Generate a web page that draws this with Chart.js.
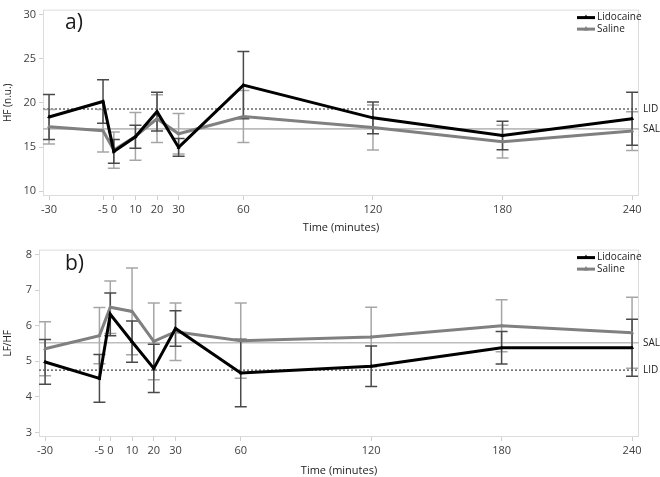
<!DOCTYPE html>
<html>
<head>
<meta charset="utf-8">
<script src="https://cdn.jsdelivr.net/npm/chart.js@4.4.1/dist/chart.umd.min.js"></script>
<style>
    html, body { margin: 0; padding: 0; background: #fff; }
    #wrap { width: 660px; height: 477px; }
    canvas { display: block; }
</style>
</head>
<body>
<div id="wrap">
    <canvas id="hfChart" width="660" height="240"></canvas>
    <canvas id="lfhfChart" width="660" height="237"></canvas>
</div>
<script>
// Time points (minutes)
const timePoints = [-30, -5, 0, 10, 20, 30, 60, 120, 180, 240];

// a) HF (n.u.), mean and error
const hfLidocaine    = [18.4, 20.15, 14.5, 16.15, 19.0, 14.95, 22.0, 18.3, 16.3, 18.2];
const hfLidocaineErr = [2.55, 2.45, 1.35, 1.3, 2.2, 1.0, 3.8, 1.8, 1.6, 3.0];
const hfSaline       = [17.3, 16.85, 14.65, 16.2, 18.2, 16.5, 18.45, 17.2, 15.6, 16.8];
const hfSalineErr    = [1.95, 2.4, 2.05, 2.7, 2.7, 2.3, 2.95, 2.55, 1.85, 2.2];
const hfLidMean = 19.3;
const hfSalMean = 17.05;
const hfTicks = [10, 15, 20, 25, 30];

// b) LF/HF, mean and error
const lfhfLidocaine    = [4.98, 4.52, 6.32, 5.55, 4.8, 5.92, 4.67, 4.86, 5.38, 5.38];
const lfhfLidocaineErr = [0.63, 0.67, 0.6, 0.58, 0.68, 0.5, 0.95, 0.57, 0.46, 0.8];
const lfhfSaline       = [5.35, 5.72, 6.52, 6.4, 5.56, 5.83, 5.58, 5.68, 6.0, 5.8];
const lfhfSalineErr    = [0.76, 0.79, 0.74, 1.22, 1.08, 0.81, 1.06, 0.84, 0.73, 1.0];
const lfhfLidMean = 4.75;
const lfhfSalMean = 5.52;
const lfhfTicks = [3, 4, 5, 6, 7, 8];

const FONT = "'Open Sans', 'DejaVu Sans', sans-serif";
const TEXT_COLOR = '#404040';

// frame, reference lines, error bars, legend and panel label
const panelDecor = {
    id: 'panelDecor',
    beforeDatasetsDraw(chart, args, opts) {
        const ctx = chart.ctx;
        const area = chart.chartArea;
        const xs = chart.scales.x;
        const ys = chart.scales.y;

        ctx.save();
        // frame
        ctx.strokeStyle = '#dcdcdc';
        ctx.lineWidth = 1;
        ctx.strokeRect(area.left + 0.5, area.top + 0.5, area.width - 1, area.height - 1);

        // reference lines
        const lidY = ys.getPixelForValue(opts.lidMean);
        const salY = ys.getPixelForValue(opts.salMean);
        ctx.lineWidth = 1.6;
        ctx.strokeStyle = '#bdbdbd';
        ctx.setLineDash([]);
        ctx.beginPath();
        ctx.moveTo(area.left, salY);
        ctx.lineTo(area.right, salY);
        ctx.stroke();
        ctx.strokeStyle = '#707070';
        ctx.setLineDash([2, 2]);
        ctx.beginPath();
        ctx.moveTo(area.left, lidY);
        ctx.lineTo(area.right, lidY);
        ctx.stroke();
        ctx.setLineDash([]);

        ctx.fillStyle = '#222';
        ctx.font = '10px ' + FONT;
        ctx.textAlign = 'left';
        ctx.textBaseline = 'middle';
        ctx.fillText('LID', area.right + 4, lidY);
        ctx.fillText('SAL', area.right + 4, salY);

        // error bars (saline first, lidocaine on top)
        for (let d = chart.data.datasets.length - 1; d >= 0; d--) {
            const ds = chart.data.datasets[d];
            ctx.strokeStyle = ds.errorColor;
            ctx.lineWidth = 1.5;
            ds.data.forEach((pt, i) => {
                const px = xs.getPixelForValue(pt.x);
                const top = ys.getPixelForValue(pt.y + ds.errors[i]);
                const bot = ys.getPixelForValue(pt.y - ds.errors[i]);
                ctx.beginPath();
                ctx.moveTo(px, top);
                ctx.lineTo(px, bot);
                ctx.moveTo(px - 6, top);
                ctx.lineTo(px + 6, top);
                ctx.moveTo(px - 6, bot);
                ctx.lineTo(px + 6, bot);
                ctx.stroke();
            });
        }
        ctx.restore();
    },
    afterDraw(chart, args, opts) {
        const ctx = chart.ctx;
        const area = chart.chartArea;
        ctx.save();

        // panel label
        ctx.fillStyle = '#1a1a1a';
        ctx.font = '21px ' + FONT;
        ctx.textAlign = 'left';
        ctx.textBaseline = 'middle';
        ctx.fillText(opts.label, 65, opts.labelY);

        // legend
        ctx.font = '10px ' + FONT;
        chart.data.datasets.forEach((ds, i) => {
            const y = area.top + 8 + i * 11.5;
            const x0 = area.right - 62;
            ctx.strokeStyle = ds.borderColor;
            ctx.fillStyle = ds.borderColor;
            ctx.lineWidth = 3;
            ctx.beginPath();
            ctx.moveTo(x0, y);
            ctx.lineTo(x0 + 18, y);
            ctx.stroke();
            ctx.beginPath();
            ctx.moveTo(x0 + 9, y - 3);
            ctx.lineTo(x0 + 11.5, y + 1.5);
            ctx.lineTo(x0 + 6.5, y + 1.5);
            ctx.closePath();
            ctx.fill();
            ctx.fillStyle = '#222';
            ctx.fillText(ds.label, x0 + 20, y);
        });
        ctx.restore();
    }
};

function toPoints(values) {
    return timePoints.map((t, i) => ({ x: t, y: values[i] }));
}

function buildPanel(canvasId, p) {
    const ctx = document.getElementById(canvasId).getContext('2d');
    return new Chart(ctx, {
        type: 'line',
        data: {
            datasets: [
                {
                    label: 'Lidocaine',
                    data: toPoints(p.lid),
                    errors: p.lidErr,
                    errorColor: '#4a4a4a',
                    borderColor: '#000000',
                    backgroundColor: '#000000',
                    borderWidth: 3,
                    pointStyle: 'triangle',
                    pointRadius: 1.6,
                    pointBorderWidth: 1,
                    tension: 0
                },
                {
                    label: 'Saline',
                    data: toPoints(p.sal),
                    errors: p.salErr,
                    errorColor: '#a6a6a6',
                    borderColor: '#808080',
                    backgroundColor: '#808080',
                    borderWidth: 3,
                    pointStyle: 'triangle',
                    pointRadius: 1.6,
                    pointBorderWidth: 1,
                    tension: 0
                }
            ]
        },
        options: {
            responsive: false,
            animation: false,
            layout: { padding: { top: p.padTop, right: 21, left: 0, bottom: 0 } },
            plugins: {
                legend: { display: false },
                tooltip: { enabled: false },
                panelDecor: {
                    label: p.label,
                    labelY: p.labelY,
                    lidMean: p.lidMean,
                    salMean: p.salMean
                }
            },
            scales: {
                x: {
                    type: 'linear',
                    min: -32.8,
                    max: 243.2,
                    afterBuildTicks: axis => { axis.ticks = timePoints.map(v => ({ value: v })); },
                    afterFit: scale => { scale.height = p.xHeight; },
                    ticks: {
                        autoSkip: false,
                        maxRotation: 0,
                        padding: 3,
                        color: TEXT_COLOR,
                        font: { family: FONT, size: 11 }
                    },
                    grid: { drawOnChartArea: false, drawTicks: true, tickLength: 4, color: '#d0d0d0' },
                    border: { display: false },
                    title: {
                        display: true,
                        text: 'Time (minutes)',
                        color: '#222',
                        font: { family: FONT, size: 11 },
                        padding: { top: 0, bottom: p.xTitlePad }
                    }
                },
                y: {
                    min: p.yMin,
                    max: p.yMax,
                    afterBuildTicks: axis => { axis.ticks = p.yTicks.map(v => ({ value: v })); },
                    afterFit: scale => { scale.width = p.yWidth; },
                    ticks: {
                        padding: 3,
                        color: TEXT_COLOR,
                        font: { family: FONT, size: 11 }
                    },
                    grid: { drawOnChartArea: false, drawTicks: true, tickLength: 4, color: '#d0d0d0' },
                    border: { display: false },
                    title: {
                        display: true,
                        text: p.yTitle,
                        color: '#222',
                        font: { family: FONT, size: 10 },
                        padding: { top: 2, bottom: 0 }
                    }
                }
            }
        },
        plugins: [panelDecor]
    });
}

buildPanel('hfChart', {
    lid: hfLidocaine, lidErr: hfLidocaineErr,
    sal: hfSaline, salErr: hfSalineErr,
    lidMean: hfLidMean, salMean: hfSalMean,
    yMin: 9.46, yMax: 30.54, yTicks: hfTicks,
    yTitle: 'HF (n.u.)',
    label: 'a)', labelY: 23,
    padTop: 1, yWidth: 43, xHeight: 44, xTitlePad: 6
});

buildPanel('lfhfChart', {
    lid: lfhfLidocaine, lidErr: lfhfLidocaineErr,
    sal: lfhfSaline, salErr: lfhfSalineErr,
    lidMean: lfhfLidMean, salMean: lfhfSalMean,
    yMin: 2.87, yMax: 8.14, yTicks: lfhfTicks,
    yTitle: 'LF/HF',
    label: 'b)', labelY: 24,
    padTop: 3, yWidth: 39, xHeight: 40, xTitlePad: 0
});
</script>
</body>
</html>
